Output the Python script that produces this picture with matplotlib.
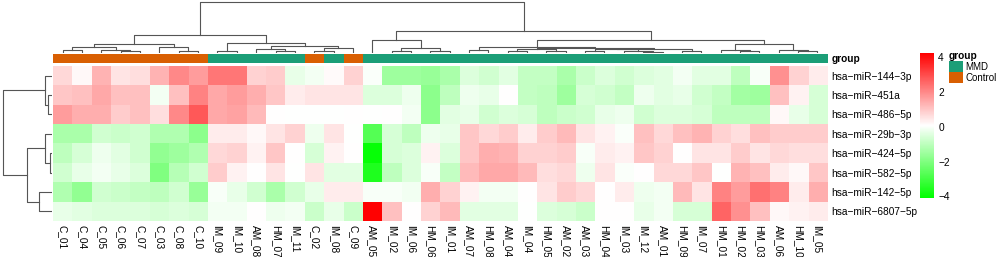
import numpy as np
import matplotlib
matplotlib.use("Agg")
import matplotlib.pyplot as plt
from matplotlib.colors import LinearSegmentedColormap, ListedColormap
from matplotlib.patches import Patch

plt.rcParams['font.family'] = ['Liberation Sans', 'DejaVu Sans']

# column labels, in the order shown
samples = ['C_01', 'C_04', 'C_05', 'C_06', 'C_07', 'C_03', 'C_08', 'C_10', 'IM_09', 'IM_10',
           'AM_08', 'HM_07', 'IM_11', 'C_02', 'IM_08', 'C_09', 'AM_05', 'IM_02', 'IM_06', 'HM_06',
           'IM_01', 'AM_07', 'HM_08', 'AM_04', 'IM_04', 'HM_05', 'AM_02', 'AM_03', 'HM_04', 'IM_03',
           'IM_12', 'AM_01', 'HM_09', 'IM_07', 'HM_01', 'HM_02', 'HM_03', 'AM_06', 'HM_10', 'IM_05']
groups = ['Control' if s.startswith('C_') else 'MMD' for s in samples]

mirnas = ['hsa−miR−144−3p', 'hsa−miR−451a', 'hsa−miR−486−5p', 'hsa−miR−29b−3p',
          'hsa−miR−424−5p', 'hsa−miR−582−5p', 'hsa−miR−142−5p', 'hsa−miR−6807−5p']

# scaled expression (rows = miRNAs, cols = samples)
mir_144 = [0.7, 0.2, 1.3, 0.5, 0.6, 1.3, 2.0, 1.7, 2.3, 2.3, 0.8, 0.9, -0.3, -0.1, 0.15, 0.8, 0.0, -1.5, -1.5,
           -1.6, -1.3, -0.5, -0.7, -0.4, -0.9, -0.9, -1.3, -0.8, -0.5, -0.7, -0.5, -0.4, -0.1, -0.4, -0.4, -1.0, -0.05, 1.9, 0.8, 0.4]
mir_451 = [1.0, 1.1, 1.5, 1.1, 1.1, -0.1, 1.1, 2.1, 1.5, 1.7, 1.4, 1.0, 0.4, 0.5, 0.5, 0.5, -0.5, -0.5, -0.2,
           -1.8, -1.0, -0.2, -0.3, 0.1, -0.9, -1.0, -1.5, -0.6, -0.7, -0.9, -0.2, -0.4, -0.3, -0.7, -0.9, -1.4, -1.5, 1.1, 0.3, -0.6]
mir_486 = [1.7, 1.4, 1.4, 0.9, 1.1, 0.6, 2.0, 2.8, 1.5, 1.6, 1.2, 0.1, 0.05, 0.05, 0.05, 0.1, 0.05, 0.1, -0.1,
           -1.8, -0.4, -0.3, -0.7, -0.5, -0.6, -1.0, -0.8, -0.7, -0.3, -0.2, -0.7, -0.5, -0.5, -0.6, -1.0, -1.0, -1.0, 0.2, -0.3, -0.6]
mir_29b = [-1.3, -1.3, -0.7, -0.8, -0.7, -1.2, -1.2, -1.8, 0.4, 0.4, 0.2, 0.5, 0.8, -0.2, 0.5, 0.05, -2.7, -0.6, -1.0,
           -0.2, -0.3, 1.0, 0.7, 0.9, 0.4, 0.9, 1.2, 0.5, 0.3, 0.0, 1.1, 0.7, 1.1, 1.3, 0.8, 0.6, 1.1, 0.9, 0.9, 0.9]
mir_424 = [-1.0, -0.6, -0.2, -0.4, -0.7, -1.7, -1.5, -1.2, 0.7, 0.8, 0.3, 1.0, 0.1, -0.6, 0.3, 0.1, -4.0, -0.6, -0.5,
           0.3, -0.5, 1.0, 1.4, 1.3, 0.8, 0.8, 0.9, -0.05, 0.4, 0.3, 1.0, 0.8, 0.1, 0.5, 0.5, 0.9, 0.5, 0.7, 0.6, 0.6]
mir_582 = [-0.7, -0.3, -0.1, -0.3, -0.5, -2.0, -1.1, -0.7, 0.9, 0.3, 0.1, 0.5, 0.05, 0.5, -0.4, -0.4, -3.6, -1.0, -0.5,
           -0.05, -0.9, 1.2, 1.5, 1.5, 1.2, 0.6, 0.7, -0.2, 0.5, 0.0, 0.1, 0.7, 0.7, 1.0, 0.05, 1.3, 1.1, 0.4, 0.2, 1.0]
mir_142 = [-1.2, -1.7, -0.7, -0.8, -0.9, -1.0, -0.7, -1.6, -0.05, -0.3, -0.7, -1.3, -0.7, -0.3, 0.4, 0.4, -0.05, -0.05, -0.15,
           1.4, 0.8, 0.3, -0.1, -0.1, 0.1, 0.5, 0.9, 0.7, 0.1, 0.4, -0.2, -0.1, 1.2, 0.5, 2.1, 1.7, 2.4, 2.1, 0.4, 1.4]
mir_6807 = [-0.3, -0.4, -0.5, -0.5, -0.5, -0.6, -0.5, -0.6, -0.1, -0.1, 0.1, -0.2, -0.1, -0.8, -0.3, -0.8, 4.2, 1.1, 0.1,
            0.8, 1.2, -0.4, -0.4, -0.4, 0.05, -0.5, -0.6, -0.8, 0.1, 0.1, -0.3, -0.1, -0.6, -0.6, 2.6, 1.9, 1.1, 0.2, 0.3, 0.4]

# dendrograms as (left, right, height); ints are leaf positions
col_tree = (
    ((((0, 1, 2.5), (2, (3, 4, 2.0), 3.0), 6.0), (5, (6, 7, 2.0), 5.5), 9.0),
     ((8, 9, 1.5), ((10, (11, 12, 2.0), 4.0), ((13, 14, 2.0), 15, 5.0), 7.0), 10.0),
     18.0),
    ((16, ((17, 18, 2.0), (19, 20, 2.0), 5.0), 13.0),
     (((21, 22, 3.0),
       (((23, 24, 1.5), (25, 26, 2.0), 3.5),
        (((27, 28, 1.5), (29, (30, 31, 1.0), 2.0), 3.5), (32, 33, 2.0), 4.0), 5.0), 6.0),
      ((34, (35, 36, 1.5), 3.0), (37, (38, 39, 1.5), 3.0), 9.0), 13.0),
     22.0),
    51.0)
row_tree = ((0, (1, 2, 4.0), 7.0), ((3, (4, 5, 2.5), 7.0), (6, 7, 13.0), 25.0), 49.0)

data = np.array([mir_144, mir_451, mir_486, mir_29b, mir_424, mir_582, mir_142, mir_6807])

W, H = 996, 257
fig = plt.figure(figsize=(W / 100, H / 100), dpi=100)

def px(x0, y0, x1, y1):
    return [x0 / W, 1 - y1 / H, (x1 - x0) / W, (y1 - y0) / H]

line_c = '#555555'

def draw_tree(ax, node, vertical):
    if isinstance(node, int):
        return node + 0.5, 0.0
    l, r, h = node
    pl, hl = draw_tree(ax, l, vertical)
    pr, hr = draw_tree(ax, r, vertical)
    xs = [pl, pl, pr, pr]
    ys = [hl, h, h, hr]
    if vertical:
        ax.plot(xs, ys, color=line_c, lw=0.8)
    else:
        ax.plot(ys, xs, color=line_c, lw=0.8)
    return (pl + pr) / 2, h

# heatmap
cmap = LinearSegmentedColormap.from_list('gwr', ['#00FF00', '#FFFFFF', '#FF0000'])
ax = fig.add_axes(px(53, 66, 827, 221))
im = ax.imshow(data, cmap=cmap, vmin=-4.1, vmax=4.25, aspect='auto',
               interpolation='nearest', extent=(0, len(samples), len(mirnas), 0))
ax.set_xticks(np.arange(len(samples)) + 0.5)
ax.set_xticklabels(samples, rotation=-90, fontsize=7.3)
ax.set_yticks(np.arange(len(mirnas)) + 0.5)
ax.set_yticklabels(mirnas, fontsize=7.3)
ax.yaxis.tick_right()
ax.tick_params(length=0, pad=3)
for s in ax.spines.values():
    s.set_visible(False)

# annotation bar
axg = fig.add_axes(px(53, 53.5, 827, 63.5))
gcode = np.array([[0 if g == 'MMD' else 1 for g in groups]])
axg.imshow(gcode, cmap=ListedColormap(['#1B9E77', '#D95F02']), vmin=0, vmax=1,
           aspect='auto', interpolation='nearest', extent=(0, len(samples), 1, 0))
axg.set_xticks([])
axg.set_yticks([0.5])
axg.set_yticklabels(['group'], fontsize=7.3, fontweight='bold')
axg.yaxis.tick_right()
axg.tick_params(length=0, pad=3)
for s in axg.spines.values():
    s.set_visible(False)

# column dendrogram
axc = fig.add_axes(px(53, 0, 827, 53))
draw_tree(axc, col_tree, True)
axc.set_xlim(0, len(samples))
axc.set_ylim(0, 53)
axc.axis('off')

# row dendrogram
axr = fig.add_axes(px(0, 66, 52, 221))
draw_tree(axr, row_tree, False)
axr.set_ylim(len(mirnas), 0)
axr.set_xlim(52, 0)
axr.axis('off')

# colorbar
cax = fig.add_axes(px(920, 53, 934, 198))
cb = fig.colorbar(im, cax=cax, ticks=[-4, -2, 0, 2, 4])
cb.outline.set_visible(False)
cb.ax.tick_params(length=0, labelsize=7.3, pad=3)

# legend
handles = [Patch(facecolor='#1B9E77', label='MMD'), Patch(facecolor='#D95F02', label='Control')]
leg = fig.legend(handles=handles, title='group', loc='upper left',
                 bbox_to_anchor=(949 / W, 1 - 51 / H), frameon=False, fontsize=7.0,
                 title_fontproperties={'weight': 'bold', 'size': 7.3},
                 handlelength=1.45, handleheight=1.35, handletextpad=0.2,
                 labelspacing=0.0, borderpad=0.0, borderaxespad=0)
leg._legend_box.align = 'left'

fig.savefig('out.png', dpi=100)
